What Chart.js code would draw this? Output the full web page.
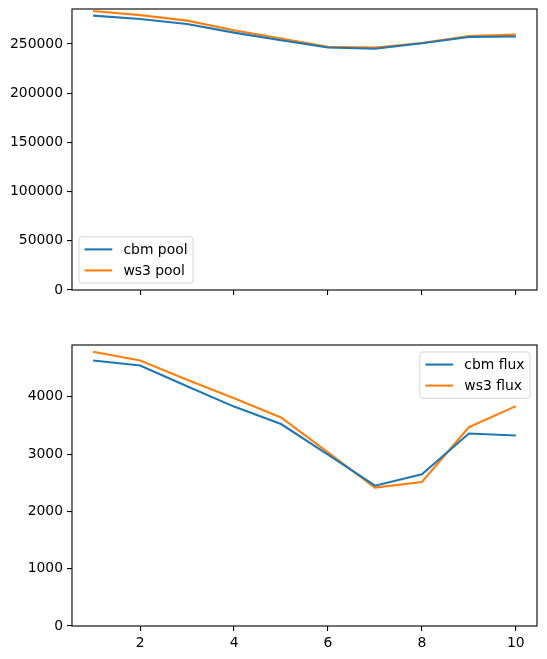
<!DOCTYPE html>
<html>
<head>
<meta charset="utf-8">
<script src="https://cdn.jsdelivr.net/npm/chart.js@4.4.1/dist/chart.umd.min.js"></script>
<style>
  html, body { margin: 0; padding: 0; background: #fff; }
  #wrap { position: relative; width: 547px; height: 659px; }
  .box { position: absolute; left: 0; width: 547px; }
  #topBox { top: 0; height: 310px; }
  #botBox { top: 330px; height: 329px; }
</style>
</head>
<body>
<div id="wrap">
  <div class="box" id="topBox"><canvas id="poolChart"></canvas></div>
  <div class="box" id="botBox"><canvas id="fluxChart"></canvas></div>
</div>
<script>
// Data
const periods = [1, 2, 3, 4, 5, 6, 7, 8, 9, 10];
const cbmPool = [278800, 275300, 270200, 261500, 253700, 246300, 245200, 250700, 257100, 257500];
const ws3Pool = [283500, 279300, 273700, 264000, 255500, 247000, 246300, 251000, 258100, 259500];
const cbmFlux = [4635, 4547, 4185, 3830, 3525, 2990, 2450, 2650, 3360, 3325];
const ws3Flux = [4786, 4635, 4297, 3977, 3640, 3030, 2415, 2515, 3470, 3838];

const xTicks = [2, 4, 6, 8, 10];
const poolTicks = [0, 50000, 100000, 150000, 200000, 250000];
const fluxTicks = [0, 1000, 2000, 3000, 4000];

const BLUE = '#1f77b4';
const ORANGE = '#ff7f0e';
const FONT = { family: '"DejaVu Sans", sans-serif', size: 13.9 };

Chart.defaults.color = '#000';

function toPoints(values) {
  return periods.map((x, i) => ({ x: x, y: values[i] }));
}

// Draws the four spines and a matplotlib-like legend inside the plot area
const frameAndLegend = {
  id: 'frameAndLegend',
  afterDraw(chart, args, opts) {
    const ctx = chart.ctx;
    const a = chart.chartArea;
    ctx.save();
    ctx.strokeStyle = '#000';
    ctx.lineWidth = 1.1;
    ctx.strokeRect(a.left, a.top, a.right - a.left, a.bottom - a.top);

    const fs = FONT.size;
    const pad = 0.4 * fs, handle = 2 * fs, textPad = 0.8 * fs;
    const spacing = 0.5 * fs, axPad = 0.5 * fs, rowH = 14.1;
    ctx.font = fs + 'px ' + FONT.family;
    const sets = chart.data.datasets;
    const tw = Math.max(...sets.map(d => ctx.measureText(d.label).width));
    const w = pad + handle + textPad + tw + pad;
    const h = 2 * pad + sets.length * rowH + (sets.length - 1) * spacing;
    let x0, y0;
    if (opts.corner === 'upperRight') {
      x0 = a.right - axPad - w;
      y0 = a.top + axPad;
    } else {
      x0 = a.left + axPad;
      y0 = a.bottom - axPad - h;
    }
    ctx.beginPath();
    ctx.roundRect(x0, y0, w, h, 3);
    ctx.fillStyle = 'rgba(255,255,255,0.8)';
    ctx.fill();
    ctx.strokeStyle = 'rgba(204,204,204,0.8)';
    ctx.lineWidth = 1;
    ctx.stroke();

    sets.forEach((d, i) => {
      const cy = y0 + pad + rowH / 2 + i * (rowH + spacing);
      ctx.beginPath();
      ctx.moveTo(x0 + pad, cy);
      ctx.lineTo(x0 + pad + handle, cy);
      ctx.strokeStyle = d.borderColor;
      ctx.lineWidth = 2.08;
      ctx.stroke();
      ctx.fillStyle = '#000';
      ctx.textBaseline = 'middle';
      ctx.textAlign = 'left';
      ctx.fillText(d.label, x0 + pad + handle + textPad, cy + 1);
    });
    ctx.restore();
  }
};

function makeChart(id, labels, series, yMax, yTicks, opt) {
  return new Chart(document.getElementById(id), {
    type: 'line',
    data: {
      datasets: series.map((s, i) => ({
        label: labels[i],
        data: toPoints(s),
        borderColor: i === 0 ? BLUE : ORANGE,
        backgroundColor: i === 0 ? BLUE : ORANGE,
        borderWidth: 2.08,
        pointRadius: 0,
        tension: 0,
        fill: false
      }))
    },
    options: {
      responsive: true,
      maintainAspectRatio: false,
      animation: false,
      layout: { padding: { top: opt.padTop, right: 10, left: 0, bottom: 0 } },
      plugins: {
        legend: { display: false },
        tooltip: { enabled: false },
        frameAndLegend: { corner: opt.corner }
      },
      scales: {
        x: {
          type: 'linear',
          min: 0.55,
          max: 10.45,
          afterBuildTicks: s => { s.ticks = xTicks.map(v => ({ value: v })); },
          afterFit: s => {
            s.height = opt.xHeight;
            s.paddingLeft = 0; s.paddingRight = 0;
          },
          grid: { drawOnChartArea: false, drawTicks: true, tickLength: 5, color: '#000', lineWidth: 1.1 },
          border: { display: false },
          ticks: {
            font: FONT,
            color: '#000',
            padding: 4,
            maxRotation: 0,
            callback: v => opt.showX ? String(v) : ''
          }
        },
        y: {
          type: 'linear',
          min: 0,
          max: yMax,
          afterBuildTicks: s => { s.ticks = yTicks.map(v => ({ value: v })); },
          afterFit: s => {
            s.width = 72;
            s.paddingTop = 0; s.paddingBottom = 0;
          },
          grid: { drawOnChartArea: false, drawTicks: true, tickLength: 5, color: '#000', lineWidth: 1.1 },
          border: { display: false },
          ticks: { font: FONT, color: '#000', padding: 4, callback: v => String(v) }
        }
      }
    },
    plugins: [frameAndLegend]
  });
}

makeChart('poolChart', ['cbm pool', 'ws3 pool'], [cbmPool, ws3Pool], 285500, poolTicks,
  { padTop: 9, xHeight: 20, showX: false, corner: 'lowerLeft' });
makeChart('fluxChart', ['cbm flux', 'ws3 flux'], [cbmFlux, ws3Flux], 4905, fluxTicks,
  { padTop: 15, xHeight: 33, showX: true, corner: 'upperRight' });
</script>
</body>
</html>
